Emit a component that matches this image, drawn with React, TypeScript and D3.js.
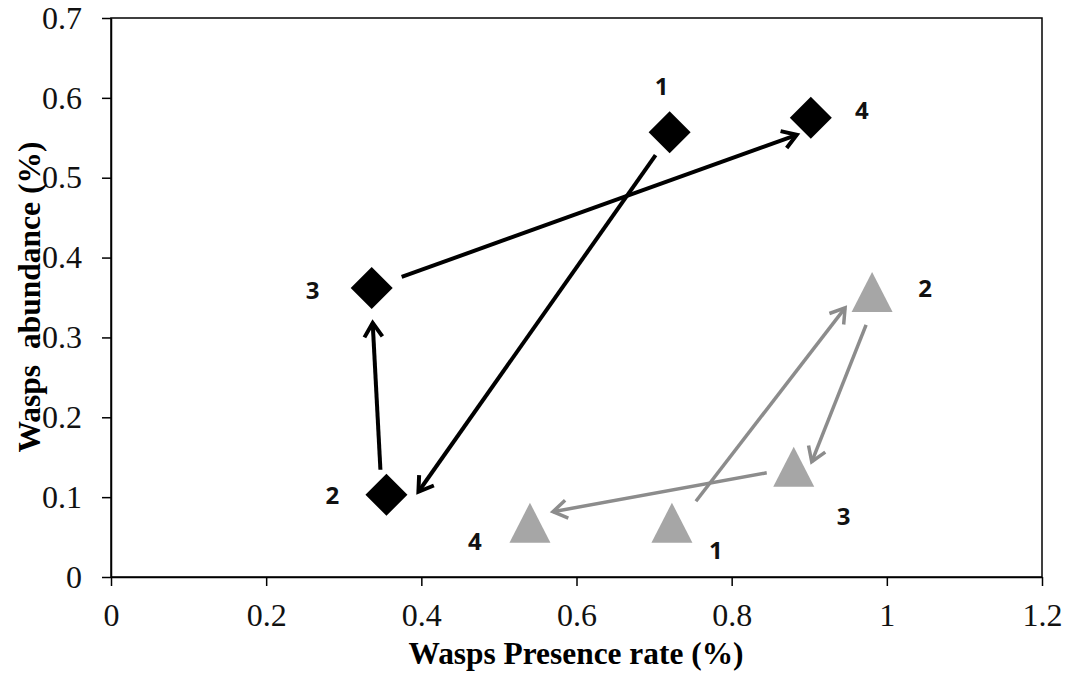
import * as d3 from "d3";
import { useRef, useEffect } from "react";

// series values
const blackX = [0.72, 0.355, 0.336, 0.902];
const blackY = [0.557, 0.103, 0.362, 0.575];
const grayX = [0.723, 0.981, 0.88, 0.54];
const grayY = [0.068, 0.357, 0.138, 0.068];
const pointLabels = ["1", "2", "3", "4"];

const xTicks = [0, 0.2, 0.4, 0.6, 0.8, 1, 1.2];
const yTicks = [0, 0.1, 0.2, 0.3, 0.4, 0.5, 0.6, 0.7];

const xTitle = "Wasps Presence rate (%)";
const yTitle = "Wasps  abundance (%)";

// layout: pixel offsets of labels and arrow ends from the markers
const blackLabelOff = [[-8, -47], [-54, 0], [-59, 2], [51, -8]];
const grayLabelOff = [[44, 27], [53, -4], [50, 49], [-55, 18]];
const blackArrowOff = [
    { s: [-14, 23], e: [32, -3] },
    { s: [-6, -25], e: [1, 35] },
    { s: [30, -11], e: [-14, 17] },
];
const grayArrowOff = [
    { s: [24, -21.5], e: [-27, 16] },
    { s: [-6, 33], e: [18, -5] },
    { s: [-27, 6], e: [23, -11] },
];

const W = 1068;
const H = 678;
const margin = { top: 18, left: 111, right: 26, bottom: 101 };

const App = () => {
    const chartRef = useRef<SVGSVGElement | null>(null);

    useEffect(() => {
        const svg = d3.select(chartRef.current);
        svg.selectAll("*").remove();

        const scaleX = d3.scaleLinear().domain([0, 1.2]).range([margin.left, W - margin.right]);
        const scaleY = d3.scaleLinear().domain([0, 0.7]).range([H - margin.bottom, margin.top]);

        svg.append("rect").attr("width", W).attr("height", H).attr("fill", "white");

        const defs = svg.append("defs");
        const addMarker = (id: string, color: string, sw: number) => {
            defs.append("marker")
                .attr("id", id)
                .attr("viewBox", "-20 -12 24 24")
                .attr("refX", 0)
                .attr("refY", 0)
                .attr("markerUnits", "userSpaceOnUse")
                .attr("markerWidth", 24)
                .attr("markerHeight", 24)
                .attr("orient", "auto")
                .append("path")
                .attr("d", "M -14 -9 L 0 0 L -14 9")
                .attr("fill", "none")
                .attr("stroke", color)
                .attr("stroke-width", sw)
                .attr("stroke-linejoin", "miter");
        };
        addMarker("headBlack", "#000", 4);
        addMarker("headGray", "#8c8c8c", 3.5);

        // frame
        svg.append("rect")
            .attr("x", scaleX(0))
            .attr("y", scaleY(0.7))
            .attr("width", scaleX(1.2) - scaleX(0))
            .attr("height", scaleY(0) - scaleY(0.7))
            .attr("fill", "none")
            .attr("stroke", "#000")
            .attr("stroke-width", 1.5);

        const xAxis = d3.axisBottom(scaleX)
            .tickValues(xTicks)
            .tickFormat(d => String(d))
            .tickSize(9)
            .tickSizeOuter(0)
            .tickPadding(17);
        const gx = svg.append("g")
            .attr("transform", `translate(0, ${scaleY(0)})`)
            .call(xAxis);

        const yAxis = d3.axisLeft(scaleY)
            .tickValues(yTicks)
            .tickFormat(d => String(d))
            .tickSize(9)
            .tickSizeOuter(0)
            .tickPadding(20);
        const gy = svg.append("g")
            .attr("transform", `translate(${scaleX(0)}, 0)`)
            .call(yAxis);

        [gx, gy].forEach(g => {
            g.select(".domain").attr("stroke-width", 1.5);
            g.selectAll(".tick line").attr("stroke-width", 1.5);
            g.selectAll(".tick text")
                .attr("fill", "#111")
                .style("font-family", "'Liberation Serif', 'Times New Roman', serif")
                .style("font-size", "32px");
        });

        // axis titles
        svg.append("text")
            .attr("x", 576)
            .attr("y", 664)
            .attr("text-anchor", "middle")
            .attr("textLength", 335)
            .attr("lengthAdjust", "spacingAndGlyphs")
            .style("font-family", "'Liberation Serif', 'Times New Roman', serif")
            .style("font-weight", "bold")
            .style("font-size", "31px")
            .text(xTitle);

        svg.append("text")
            .attr("transform", "translate(40, 297) rotate(-90)")
            .attr("text-anchor", "middle")
            .attr("textLength", 311)
            .attr("lengthAdjust", "spacingAndGlyphs")
            .style("font-family", "'Liberation Serif', 'Times New Roman', serif")
            .style("font-weight", "bold")
            .style("font-size", "31px")
            .style("white-space", "pre")
            .text(yTitle);

        const drawArrows = (xs: number[], ys: number[], offs: any[], color: string, sw: number, head: string) => {
            offs.forEach((o, i) => {
                svg.append("line")
                    .attr("x1", scaleX(xs[i]) + o.s[0])
                    .attr("y1", scaleY(ys[i]) + o.s[1])
                    .attr("x2", scaleX(xs[i + 1]) + o.e[0])
                    .attr("y2", scaleY(ys[i + 1]) + o.e[1])
                    .attr("stroke", color)
                    .attr("stroke-width", sw)
                    .attr("marker-end", `url(#${head})`);
            });
        };
        drawArrows(blackX, blackY, blackArrowOff, "#000", 4, "headBlack");
        drawArrows(grayX, grayY, grayArrowOff, "#8c8c8c", 3.5, "headGray");

        // diamonds
        const d = 21;
        svg.selectAll("path.diamond")
            .data(blackX)
            .enter()
            .append("path")
            .attr("class", "diamond")
            .attr("d", (v, i) => {
                const cx = scaleX(v), cy = scaleY(blackY[i]);
                return `M${cx},${cy - d}L${cx + d},${cy}L${cx},${cy + d}L${cx - d},${cy}Z`;
            })
            .attr("fill", "#000");

        // triangles
        const tw = 20.5, th = 20;
        svg.selectAll("path.tri")
            .data(grayX)
            .enter()
            .append("path")
            .attr("class", "tri")
            .attr("d", (v, i) => {
                const cx = scaleX(v), cy = scaleY(grayY[i]);
                return `M${cx},${cy - th}L${cx + tw},${cy + th}L${cx - tw},${cy + th}Z`;
            })
            .attr("fill", "#a6a6a6");

        const drawLabels = (xs: number[], ys: number[], offs: number[][]) => {
            xs.forEach((v, i) => {
                svg.append("text")
                    .attr("x", scaleX(v) + offs[i][0])
                    .attr("y", scaleY(ys[i]) + offs[i][1])
                    .attr("text-anchor", "middle")
                    .attr("dominant-baseline", "central")
                    .style("font-family", "'Open Sans', sans-serif")
                    .style("font-weight", "bold")
                    .style("font-size", "24px")
                    .attr("fill", "#111")
                    .text(pointLabels[i]);
            });
        };
        drawLabels(blackX, blackY, blackLabelOff);
        drawLabels(grayX, grayY, grayLabelOff);
    }, []);

    return (
        <svg ref={chartRef} width={W} height={H}
            style={{ position: "absolute", left: 0, top: 0, display: "block" }} />
    );
};

export default App;
